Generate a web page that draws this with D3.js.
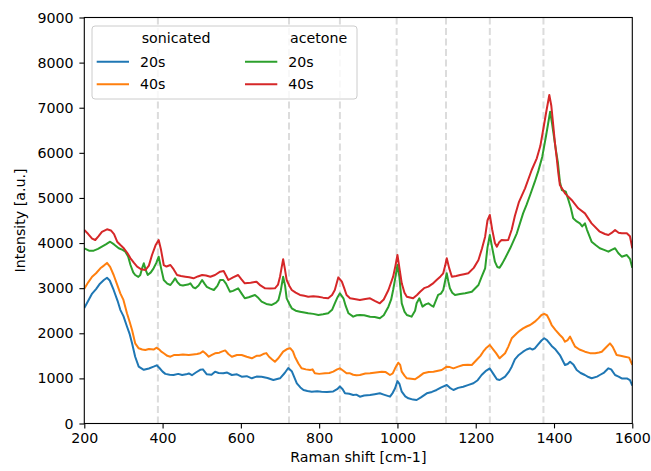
<!DOCTYPE html>
<html>
<head>
<meta charset="utf-8">
<script src="https://cdn.jsdelivr.net/npm/d3@7"></script>
<style>
  body { margin: 0; background: #fff; }
  text { font-family: "DejaVu Sans", sans-serif; fill: #000; }
</style>
</head>
<body>
<div id="div_graph_id"></div>
<script>
// Raman spectra as [shift (cm-1), intensity (a.u.)] pairs
var sonicated20 = [
  [200,2560],[210,2720],[220,2880],[230,2980],[240,3100],[250,3180],[258,3230],[265,3170],
  [275,2960],[285,2720],[292,2520],[300,2380],[309,2150],[316,1980],[322,1780],[330,1480],
  [339,1260],[352,1190],[365,1220],[377,1260],[385,1290],[392,1230],[400,1150],[407,1100],
  [418,1080],[428,1075],[440,1100],[450,1075],[460,1090],[467,1110],[475,1070],[485,1130],
  [496,1190],[503,1200],[513,1090],[525,1080],[534,1149],[543,1120],[555,1112],[565,1130],
  [577,1075],[590,1090],[602,1037],[615,1050],[628,1002],[640,1040],[653,1037],[668,1010],
  [683,964],[700,1002],[712,1120],[721,1230],[730,1160],[743,890],[752,800],[760,743],
  [770,720],[781,705],[795,715],[806,705],[820,700],[836,710],[846,760],[853,820],
  [860,760],[866,670],[877,660],[887,632],[895,640],[904,595],[915,620],[930,632],
  [942,650],[955,669],[965,640],[981,595],[988,680],[994,780],[1000,940],[1005,880],
  [1011,705],[1020,600],[1028,558],[1040,530],[1049,521],[1060,580],[1075,669],[1088,700],
  [1100,743],[1112,800],[1126,853],[1134,790],[1143,743],[1155,790],[1168,816],[1180,850],
  [1194,891],[1205,960],[1215,1075],[1225,1160],[1236,1220],[1245,1100],[1254,980],[1261,964],
  [1268,1000],[1275,1037],[1285,1150],[1292,1260],[1300,1420],[1310,1520],[1321,1592],[1330,1640],
  [1339,1667],[1345,1640],[1351,1667],[1360,1760],[1368,1840],[1375,1890],[1382,1850],[1394,1720],
  [1404,1640],[1415,1518],[1428,1297],[1435,1320],[1441,1370],[1450,1300],[1458,1186],[1468,1120],
  [1479,1075],[1488,1030],[1496,1002],[1510,1040],[1517,1075],[1528,1130],[1539,1223],[1546,1200],
  [1556,1075],[1565,1040],[1573,1000],[1586,1000],[1594,960],[1600,840]
];

var sonicated40 = [
  [200,2990],[210,3130],[220,3254],[230,3330],[241,3440],[250,3500],[258,3560],[266,3470],
  [275,3292],[283,3100],[292,2886],[300,2740],[309,2443],[316,2250],[322,2073],[330,1777],
  [339,1667],[348,1640],[356,1629],[365,1650],[377,1640],[385,1680],[390,1650],[396,1600],
  [403,1556],[412,1500],[420,1481],[430,1520],[441,1518],[452,1530],[467,1518],[478,1530],
  [488,1540],[496,1556],[503,1600],[510,1550],[518,1481],[526,1520],[534,1556],[545,1570],
  [551,1592],[560,1620],[568,1540],[577,1481],[590,1520],[602,1518],[615,1480],[628,1445],
  [640,1500],[648,1500],[657,1540],[665,1560],[672,1480],[680,1420],[687,1370],[695,1440],
  [708,1592],[718,1650],[726,1670],[733,1600],[738,1481],[747,1330],[755,1223],[766,1200],
  [777,1186],[783,1200],[789,1112],[800,1100],[815,1112],[826,1120],[836,1150],[846,1200],
  [853,1223],[860,1180],[870,1112],[879,1112],[887,1080],[895,1070],[904,1075],[918,1110],
  [930,1112],[945,1130],[960,1149],[970,1140],[981,1075],[988,1110],[994,1223],[1002,1348],
  [1007,1300],[1011,1149],[1018,1060],[1024,1002],[1035,990],[1045,980],[1055,1040],[1066,1112],
  [1080,1140],[1092,1149],[1104,1170],[1113,1186],[1126,1260],[1134,1250],[1143,1223],[1155,1260],
  [1168,1297],[1180,1300],[1190,1297],[1202,1408],[1212,1500],[1219,1592],[1226,1667],[1236,1740],
  [1244,1650],[1252,1560],[1261,1445],[1268,1500],[1275,1556],[1283,1700],[1292,1888],[1305,2000],
  [1313,2060],[1321,2110],[1330,2150],[1339,2183],[1345,2220],[1351,2257],[1360,2330],[1368,2405],
  [1375,2430],[1382,2400],[1388,2300],[1394,2183],[1404,2070],[1415,1962],[1422,1900],[1428,1814],
  [1435,1850],[1441,1925],[1448,1800],[1454,1703],[1465,1640],[1479,1592],[1492,1560],[1505,1556],
  [1515,1575],[1522,1592],[1532,1680],[1543,1777],[1550,1700],[1560,1518],[1570,1500],[1581,1481],
  [1592,1460],[1600,1300]
];

var acetone20 = [
  [200,3884],[212,3831],[224,3831],[235,3870],[245,3919],[255,3970],[266,4030],[276,3970],
  [288,3884],[298,3850],[305,3809],[312,3700],[318,3513],[325,3350],[330,3292],[338,3250],
  [343,3292],[348,3450],[352,3551],[357,3400],[362,3292],[370,3350],[377,3440],[384,3560],
  [390,3698],[396,3450],[403,3181],[412,3100],[420,3070],[427,3150],[432,3218],[438,3130],
  [445,3070],[452,3060],[458,3070],[465,3080],[471,3107],[478,3020],[484,2997],[492,3060],
  [501,3181],[507,3100],[513,3030],[522,2990],[531,2960],[540,3050],[547,3181],[555,3181],
  [562,3100],[572,2922],[580,2940],[593,2997],[602,2880],[610,2775],[620,2800],[636,2849],
  [645,2780],[653,2701],[665,2650],[679,2627],[690,2680],[696,2738],[702,2950],[708,3254],
  [713,3050],[717,2775],[724,2650],[730,2553],[740,2500],[751,2479],[762,2460],[772,2443],
  [785,2430],[798,2405],[810,2420],[823,2443],[833,2520],[840,2664],[847,2800],[853,2886],
  [862,2775],[868,2600],[875,2443],[887,2368],[896,2400],[904,2405],[915,2400],[930,2368],
  [942,2360],[955,2332],[965,2400],[977,2590],[984,2750],[989,2960],[994,3200],[1000,3513],
  [1005,3250],[1011,2664],[1018,2480],[1024,2405],[1036,2368],[1045,2500],[1049,2664],[1056,2775],
  [1064,2590],[1072,2640],[1079,2664],[1086,2620],[1092,2590],[1104,2849],[1111,2880],[1117,2960],
  [1126,3329],[1130,3150],[1134,2997],[1140,2900],[1147,2849],[1160,2870],[1173,2886],[1190,2922],
  [1207,3070],[1215,3250],[1224,3440],[1230,3900],[1236,4179],[1242,3900],[1249,3587],[1255,3470],
  [1261,3454],[1268,3550],[1275,3662],[1288,3884],[1305,4216],[1321,4659],[1330,4850],[1339,5065],
  [1351,5360],[1360,5600],[1370,5915],[1380,6395],[1385,6650],[1390,6912],[1395,6650],[1400,6350],
  [1405,6050],[1410,5780],[1415,5360],[1420,5176],[1430,5139],[1437,4950],[1443,4776],[1449,4548],
  [1458,4480],[1466,4437],[1472,4370],[1479,4437],[1484,4300],[1496,4030],[1507,3950],[1517,3884],
  [1528,3850],[1539,3809],[1547,3850],[1556,3884],[1564,3780],[1573,3698],[1586,3735],[1594,3650],
  [1600,3450]
];

var acetone40 = [
  [200,4290],[210,4200],[220,4100],[228,4068],[236,4150],[245,4250],[258,4305],[268,4280],
  [276,4200],[284,4030],[293,3950],[301,3884],[310,3780],[318,3662],[327,3560],[335,3476],
  [345,3420],[356,3402],[365,3500],[373,3735],[382,3950],[390,4068],[396,3850],[403,3513],
  [410,3480],[420,3513],[428,3420],[437,3292],[447,3270],[458,3254],[468,3240],[479,3218],
  [490,3260],[501,3292],[511,3280],[522,3254],[534,3292],[547,3365],[556,3380],[568,3181],
  [580,3240],[593,3292],[601,3200],[610,3107],[625,3120],[640,3144],[650,3060],[662,2997],
  [675,2990],[687,2997],[695,3080],[700,3254],[704,3450],[708,3640],[712,3450],[717,3181],
  [724,3050],[730,2960],[740,2900],[751,2849],[762,2830],[772,2811],[785,2820],[798,2811],
  [810,2790],[823,2775],[833,2850],[840,2960],[849,3240],[858,3144],[864,3000],[870,2849],
  [879,2775],[890,2760],[904,2738],[918,2760],[930,2775],[942,2720],[955,2664],[965,2750],
  [977,2960],[989,3254],[995,3500],[1000,3735],[1005,3450],[1011,3107],[1018,2900],[1024,2811],
  [1040,2775],[1050,2850],[1058,2922],[1068,3000],[1079,3033],[1090,3100],[1100,3181],[1110,3260],
  [1117,3329],[1122,3500],[1126,3662],[1132,3450],[1139,3254],[1150,3270],[1160,3292],[1170,3310],
  [1181,3329],[1195,3450],[1207,3624],[1216,3880],[1224,4141],[1230,4500],[1236,4622],[1242,4300],
  [1249,4000],[1254,3920],[1260,4020],[1266,4068],[1275,4060],[1283,4068],[1292,4300],[1300,4600],
  [1310,4900],[1326,5213],[1343,5620],[1356,5878],[1365,6150],[1373,6544],[1380,6900],[1388,7282],
  [1393,7050],[1398,6617],[1402,6250],[1407,5878],[1411,5550],[1415,5287],[1428,5102],[1445,4955],
  [1462,4770],[1479,4659],[1496,4437],[1517,4252],[1530,4200],[1539,4179],[1548,4230],[1556,4290],
  [1565,4230],[1573,4216],[1586,4216],[1594,4150],[1600,3884]
];

var xTicks = [200, 400, 600, 800, 1000, 1200, 1400, 1600];
var yTicks = [0, 1000, 2000, 3000, 4000, 5000, 6000, 7000, 8000, 9000];
// reference band positions (dashed guides)
var bandLines = [388, 723, 853, 998, 1124, 1236, 1373];
var groupTitles = ["sonicated", "acetone"];
var timeLabels = ["20s", "40s"];

var colors = {
  sonicated20: "#1f77b4",
  sonicated40: "#ff7f0e",
  acetone20: "#2ca02c",
  acetone40: "#d62728"
};

var margin = {top: 17.5, right: 18.7, bottom: 47.5, left: 84.3};
var width = 651 - margin.left - margin.right;
var height = 471 - margin.top - margin.bottom;
var fontSize = "14.2px";

var svg = d3.select("#div_graph_id")
  .append("svg")
  .attr("width", 651)
  .attr("height", 471)
  .append("g")
  .attr("transform", "translate(" + margin.left + "," + margin.top + ")");

var x = d3.scaleLinear().domain([200, 1600]).range([0, width]);
var y = d3.scaleLinear().domain([0, 9000]).range([height, 0]);

svg.append("clipPath")
  .attr("id", "plot-clip")
  .append("rect")
  .attr("width", width)
  .attr("height", height);

// dashed guides at the band positions
svg.append("g")
  .selectAll("line")
  .data(bandLines)
  .enter()
  .append("line")
  .attr("x1", function(d) { return x(d); })
  .attr("x2", function(d) { return x(d); })
  .attr("y1", 0)
  .attr("y2", height)
  .attr("stroke", "#dcdcdc")
  .attr("stroke-width", 2)
  .attr("stroke-dasharray", "7,3.5");

var line = d3.line()
  .x(function(d) { return x(d[0]); })
  .y(function(d) { return y(d[1]); });

var series = [
  {data: sonicated20, color: colors.sonicated20},
  {data: sonicated40, color: colors.sonicated40},
  {data: acetone20, color: colors.acetone20},
  {data: acetone40, color: colors.acetone40}
];

svg.append("g")
  .attr("clip-path", "url(#plot-clip)")
  .selectAll("path")
  .data(series)
  .enter()
  .append("path")
  .attr("d", function(d) { return line(d.data); })
  .attr("fill", "none")
  .attr("stroke", function(d) { return d.color; })
  .attr("stroke-width", 2)
  .attr("stroke-linejoin", "round");

// axes
var xAxis = svg.append("g")
  .attr("transform", "translate(0," + height + ")")
  .call(d3.axisBottom(x).tickValues(xTicks).tickSize(4.9).tickPadding(4.5).tickFormat(d3.format("d")));
var yAxis = svg.append("g")
  .call(d3.axisLeft(y).tickValues(yTicks).tickSize(4.9).tickPadding(5.9).tickFormat(d3.format("d")));

[xAxis, yAxis].forEach(function(a) {
  a.select(".domain").remove();
  a.selectAll("line").attr("stroke", "#000").attr("stroke-width", 1.1);
  a.selectAll("text").style("font-size", fontSize).style("font-family", "DejaVu Sans").attr("fill", "#000");
});

// frame
svg.append("rect")
  .attr("width", width)
  .attr("height", height)
  .attr("fill", "none")
  .attr("stroke", "#000")
  .attr("stroke-width", 1.1);

// axis labels
svg.append("text")
  .attr("x", width / 2)
  .attr("y", height + 38)
  .style("text-anchor", "middle")
  .style("font-size", fontSize)
  .text("Raman shift [cm-1]");

svg.append("text")
  .attr("transform", "rotate(-90)")
  .attr("x", -height / 2)
  .attr("y", -margin.left + 24.5)
  .style("text-anchor", "middle")
  .style("font-size", fontSize)
  .text("Intensity [a.u.]");

// legend: two columns, one per treatment
var legend = svg.append("g")
  .attr("transform", "translate(" + (92 - margin.left) + "," + (26 - margin.top) + ")");

legend.append("rect")
  .attr("width", 265)
  .attr("height", 73)
  .attr("rx", 3)
  .attr("fill", "#fff")
  .attr("fill-opacity", 0.8)
  .attr("stroke", "#cccccc")
  .attr("stroke-width", 1);

var legendCols = [
  {title: groupTitles[0], x: 4.7, keys: ["sonicated20", "sonicated40"]},
  {title: groupTitles[1], x: 153, keys: ["acetone20", "acetone40"]}
];

legendCols.forEach(function(col) {
  legend.append("text")
    .attr("x", col.x + 45)
    .attr("y", 12.3)
    .attr("dy", "0.35em")
    .style("font-size", fontSize)
    .text(col.title);

  col.keys.forEach(function(k, i) {
    var ly = 35.7 + i * 22.6;
    legend.append("line")
      .attr("x1", col.x)
      .attr("x2", col.x + 32.3)
      .attr("y1", ly)
      .attr("y2", ly)
      .attr("stroke", colors[k])
      .attr("stroke-width", 2);
    legend.append("text")
      .attr("x", col.x + 43.3)
      .attr("y", ly)
      .attr("dy", "0.35em")
      .style("font-size", fontSize)
      .text(timeLabels[i]);
  });
});
</script>
</body>
</html>
